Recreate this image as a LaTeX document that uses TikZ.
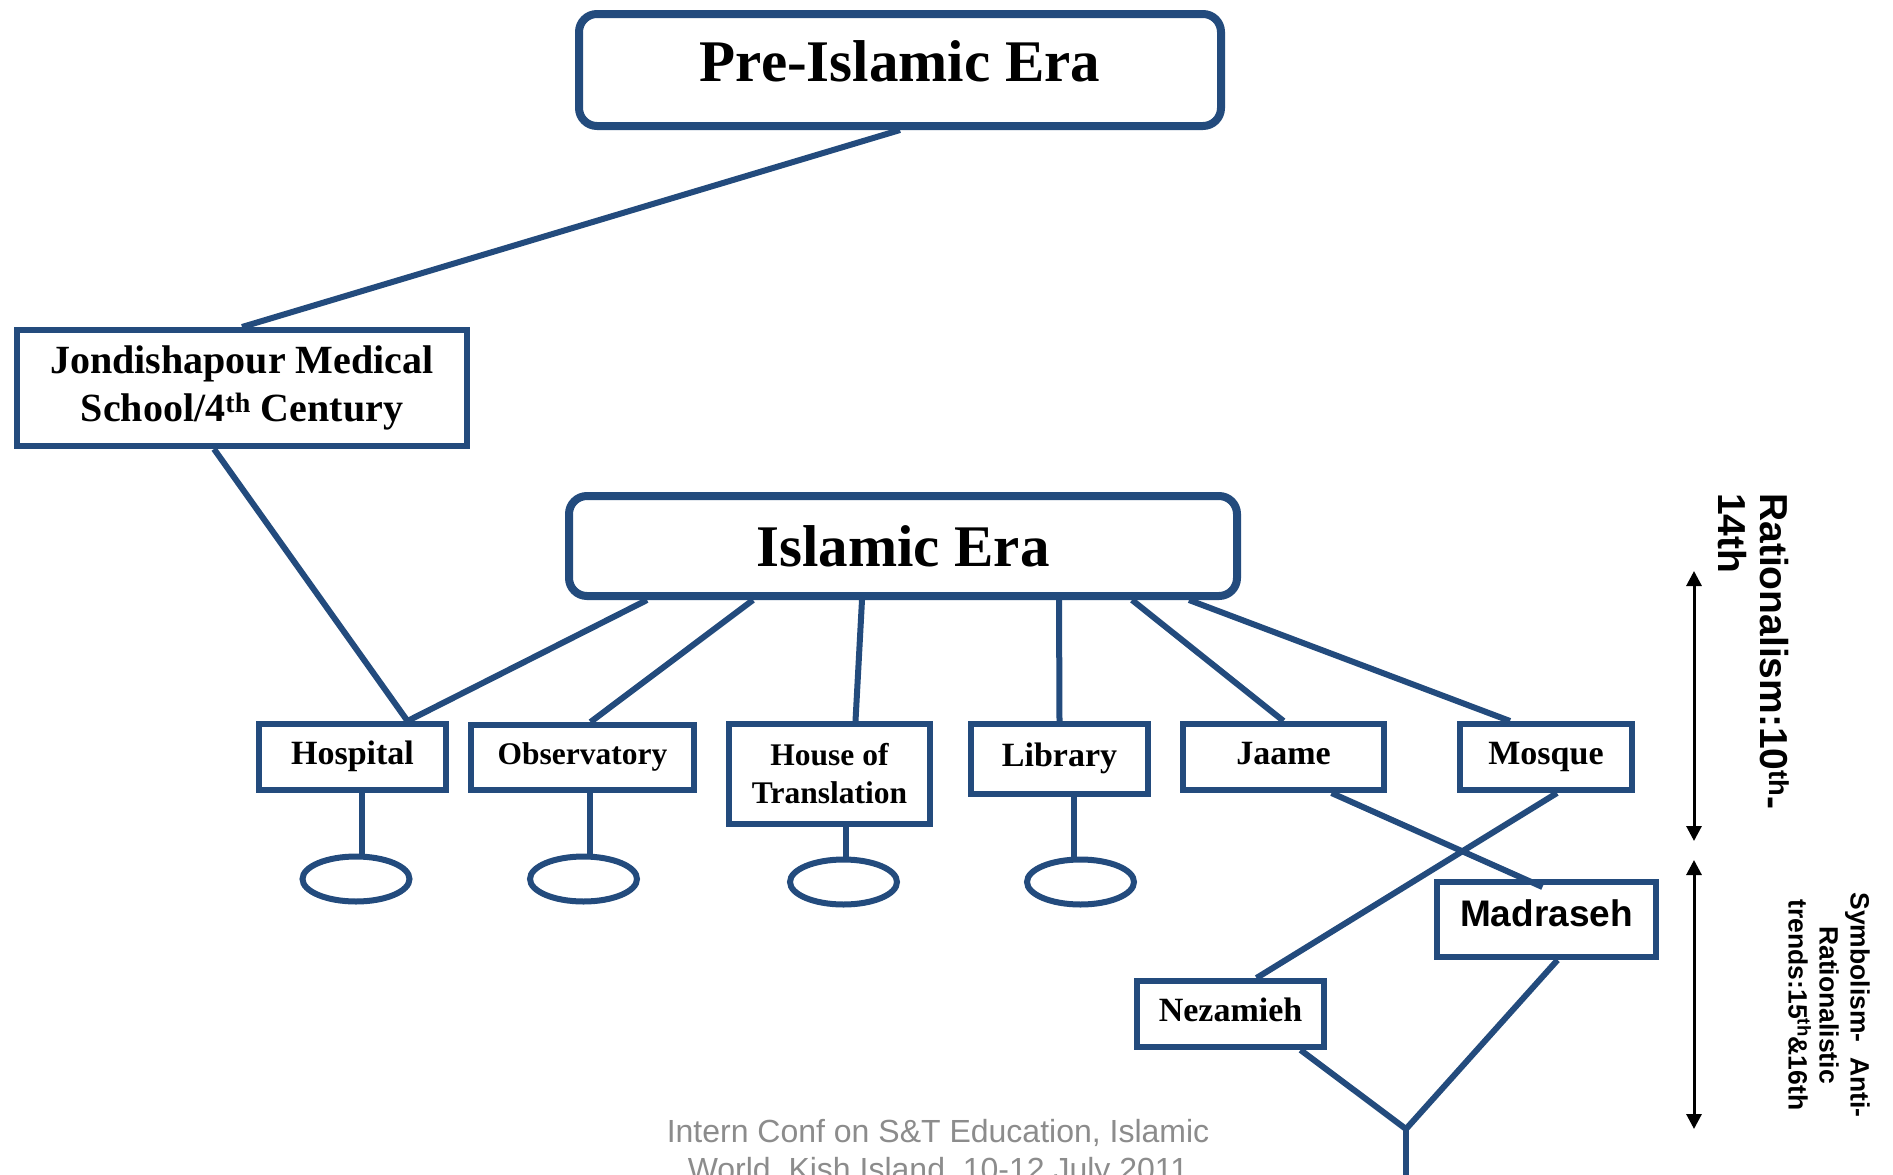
\documentclass[tikz,border=0pt]{standalone}
\usepackage{fontspec}
\setmainfont{Liberation Serif}
\newfontfamily\arialf{Liberation Sans}
\usetikzlibrary{arrows.meta,calc,shapes.geometric}
\definecolor{dblue}{HTML}{234B7D}
\definecolor{footgray}{HTML}{8C8C8C}
\begin{document}
\begin{tikzpicture}[x=1pt,y=-1pt,
  rbox/.style={draw=dblue,fill=white,line width=8pt,rounded corners=18pt,inner sep=0pt,align=center,font=\bfseries\fontsize{59}{60}\selectfont},
  sbox/.style={draw=dblue,fill=white,line width=6pt,inner sep=0pt,align=center},
  item/.style={sbox,font=\bfseries\fontsize{34}{38}\selectfont,text height=24pt,text depth=10pt},
  conn/.style={draw=dblue,line width=6pt},
  oval/.style={draw=dblue,line width=6pt,ellipse,inner sep=0pt,minimum width=107pt,minimum height=45pt},
  period/.style={black,line width=3pt,{Triangle[width=15pt,length=15pt]}-{Triangle[width=15pt,length=15pt]}},
  rot/.style={rotate=-90,inner sep=0pt,font=\arialf\bfseries}
]
\fill[white] (0,0) rectangle (1893,1175);
\useasboundingbox (0,0) rectangle (1893,1175);

% nodes
\node[rbox,minimum width=642pt,minimum height=112pt,text height=40pt,text depth=18pt] (pre) at (900,70) {Pre-Islamic Era};
\node[sbox,minimum width=450pt,minimum height=116pt,font=\bfseries\fontsize{40}{48}\selectfont] (jond) at (242,388) {Jondishapour Medical\\School/4\textsuperscript{th} Century};
\node[rbox,minimum width=668pt,minimum height=100pt] (isl) at (903,546) {Islamic Era};

\node[item,minimum width=187pt,minimum height=66pt] (hosp) at (352.5,757) {Hospital};
\node[item,minimum width=223pt,minimum height=65pt,font=\bfseries\fontsize{31.5}{38}\selectfont] (obs) at (582.5,757.5) {Observatory};
\node[sbox,minimum width=201pt,minimum height=100pt,font=\bfseries\fontsize{31.5}{38}\selectfont] (house) at (829.5,774) {House of\\Translation};
\node[item,minimum width=177pt,minimum height=70pt] (lib) at (1059.5,759) {Library};
\node[item,minimum width=201pt,minimum height=66pt] (jaame) at (1283.5,757) {Jaame};
\node[item,minimum width=172pt,minimum height=66pt] (mosque) at (1546,757) {Mosque};
\node[sbox,minimum width=219pt,minimum height=75pt,font=\arialf\bfseries\fontsize{37}{40}\selectfont,text height=27pt,text depth=14pt] (madr) at (1546.5,919.5) {Madraseh};
\node[item,minimum width=187pt,minimum height=66pt] (nez) at (1230.5,1014) {Nezamieh};

\node[oval] (e1) at (356,879) {};
\node[oval] (e2) at (583.5,879) {};
\node[oval] (e3) at (843.5,882) {};
\node[oval] (e4) at (1080.5,882) {};

% connectors
\draw[conn] (pre.south) -- (jond.north);
\draw[conn] ([xshift=-28pt]jond.south) -- ([xshift=55pt]hosp.north);
\draw[conn] ([xshift=-256pt]isl.south) -- ([xshift=55pt]hosp.north);
\draw[conn] ([xshift=-150pt]isl.south) -- ([xshift=8pt]obs.north);
\draw[conn] ([xshift=-41pt]isl.south) -- ([xshift=26pt]house.north);
\draw[conn] ([xshift=156pt]isl.south) -- (lib.north);
\draw[conn] ([xshift=229pt]isl.south) -- (jaame.north);
\draw[conn] ([xshift=286pt]isl.south) -- ([xshift=-36pt]mosque.north);
\draw[conn] ([xshift=48pt]jaame.south) -- ([xshift=-4pt,yshift=-8pt]madr.north);
\draw[conn] ([xshift=11pt]mosque.south) -- ([xshift=26pt]nez.north);

\coordinate (j) at (1406,1129);
\coordinate (jb) at (1406,1185);
\draw[conn] ([xshift=70pt]nez.south) -- (j) -- ([xshift=11pt]madr.south);
\draw[conn] (j) -- (jb);

\draw[conn] ([xshift=9.5pt]hosp.south) -- ([xshift=6pt]e1.north);
\draw[conn] ([xshift=7.5pt]obs.south) -- ([xshift=6.5pt]e2.north);
\draw[conn] ([xshift=16.5pt]house.south) -- ([xshift=2.5pt]e3.north);
\draw[conn] ([xshift=14pt]lib.south) -- ([xshift=-7pt]e4.north);

% period arrows
\coordinate (a1) at (1694,571);
\coordinate (a2) at (1694,841);
\coordinate (a3) at (1694,860);
\coordinate (a4) at (1694,1129);
\draw[period] (a1) -- (a2);
\draw[period] (a3) -- (a4);

% rotated labels
\node[rot,anchor=north west,align=left,font=\arialf\bfseries\fontsize{39}{42}\selectfont] (rat) at (1789,493) {Rationalism:10\textsuperscript{th}-\\14th};
\node[rot,align=center,font=\arialf\bfseries\fontsize{26.5}{31}\selectfont] (sym) at (1829,1005) {Symbolism-\ \ Anti-\\Rationalistic\\trends:15\textsuperscript{th}\&16th};

% footer
\node[anchor=north,inner sep=0pt,align=center,text=footgray,font=\arialf\fontsize{32}{38}\selectfont] (foot) at (938,1119) {Intern Conf on S\&T Education, Islamic\\World, Kish Island, 10-12 July 2011};
\end{tikzpicture}
\end{document}
